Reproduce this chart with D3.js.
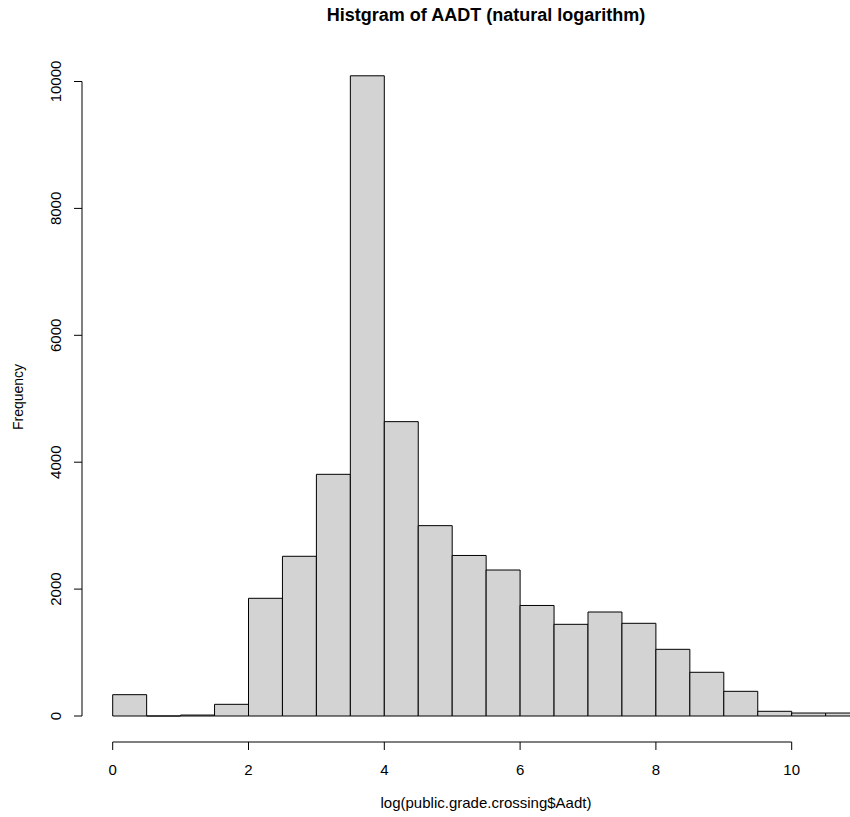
<!DOCTYPE html>
<html>
<head>
<meta charset="utf-8">
<script src="https://cdn.jsdelivr.net/npm/d3@7"></script>
<style>
  body { margin: 0; background: #fff; }
  svg { display: block; font-family: "Liberation Sans", Arial, sans-serif; }
</style>
</head>
<body>
<div id="chart"></div>
<script>
// histogram bins (width 0.5)
var binWidth = 0.5;
var binStarts = [0, 0.5, 1, 1.5, 2, 2.5, 3, 3.5, 4, 4.5, 5, 5.5, 6, 6.5, 7, 7.5, 8, 8.5, 9, 9.5, 10, 10.5];
var counts = [336, 0, 15, 184, 1855, 2517, 3809, 10090, 4639, 3000, 2530, 2301, 1742, 1445, 1639, 1461, 1051, 689, 389, 74, 47, 47];
var xTicks = [0, 2, 4, 6, 8, 10];
var yTicks = [0, 2000, 4000, 6000, 8000, 10000];

var svgWidth = 850;
var svgHeight = 817;

var svg = d3.select("#chart")
  .append("svg")
  .attr("width", svgWidth)
  .attr("height", svgHeight);

var xScale = d3.scaleLinear()
  .domain([0, 10])
  .range([112.7, 791.7]);

var yScale = d3.scaleLinear()
  .domain([0, 10000])
  .range([716, 81.5]);

var bins = binStarts.map(function(s, i) {
  return { x0: s, x1: s + binWidth, n: counts[i] };
});

// bars (paths so the empty bin still shows as a line)
svg.append("g")
  .selectAll("path")
  .data(bins)
  .enter()
  .append("path")
    .attr("d", function(d) {
      var l = xScale(d.x0), r = xScale(d.x1);
      var b = yScale(0), t = yScale(d.n);
      return "M" + l + "," + b + "L" + l + "," + t + "L" + r + "," + t + "L" + r + "," + b + "Z";
    })
    .style("fill", "#d3d3d3")
    .style("stroke", "#000")
    .style("stroke-width", 1);

// x axis
var xAxisY = 742;
var xAxis = svg.append("g");
xAxis.append("line")
  .attr("x1", xScale(0)).attr("x2", xScale(10))
  .attr("y1", xAxisY).attr("y2", xAxisY)
  .style("stroke", "#000");
xAxis.selectAll("line.tick")
  .data(xTicks)
  .enter()
  .append("line")
    .attr("class", "tick")
    .attr("x1", d => xScale(d)).attr("x2", d => xScale(d))
    .attr("y1", xAxisY).attr("y2", xAxisY + 8)
    .style("stroke", "#000");
xAxis.selectAll("text")
  .data(xTicks)
  .enter()
  .append("text")
    .attr("x", d => xScale(d))
    .attr("y", 775)
    .attr("text-anchor", "middle")
    .style("font-size", "15px")
    .text(d => d);

// y axis
var yAxisX = 82;
var yAxis = svg.append("g");
yAxis.append("line")
  .attr("x1", yAxisX).attr("x2", yAxisX)
  .attr("y1", yScale(0)).attr("y2", yScale(10000))
  .style("stroke", "#000");
yAxis.selectAll("line.tick")
  .data(yTicks)
  .enter()
  .append("line")
    .attr("class", "tick")
    .attr("x1", yAxisX - 8).attr("x2", yAxisX)
    .attr("y1", d => yScale(d)).attr("y2", d => yScale(d))
    .style("stroke", "#000");
yAxis.selectAll("text")
  .data(yTicks)
  .enter()
  .append("text")
    .attr("transform", d => "translate(61," + yScale(d) + ") rotate(-90)")
    .attr("text-anchor", "middle")
    .style("font-size", "15px")
    .text(d => d);

// labels
svg.append("text")
  .attr("x", 486)
  .attr("y", 21)
  .attr("text-anchor", "middle")
  .style("font-size", "18px")
  .style("font-weight", "bold")
  .text("Histgram of AADT (natural logarithm)");

svg.append("text")
  .attr("x", 486)
  .attr("y", 808)
  .attr("text-anchor", "middle")
  .style("font-size", "15px")
  .text("log(public.grade.crossing$Aadt)");

svg.append("text")
  .attr("transform", "translate(23,397) rotate(-90)")
  .attr("text-anchor", "middle")
  .style("font-size", "14px")
  .text("Frequency");
</script>
</body>
</html>
